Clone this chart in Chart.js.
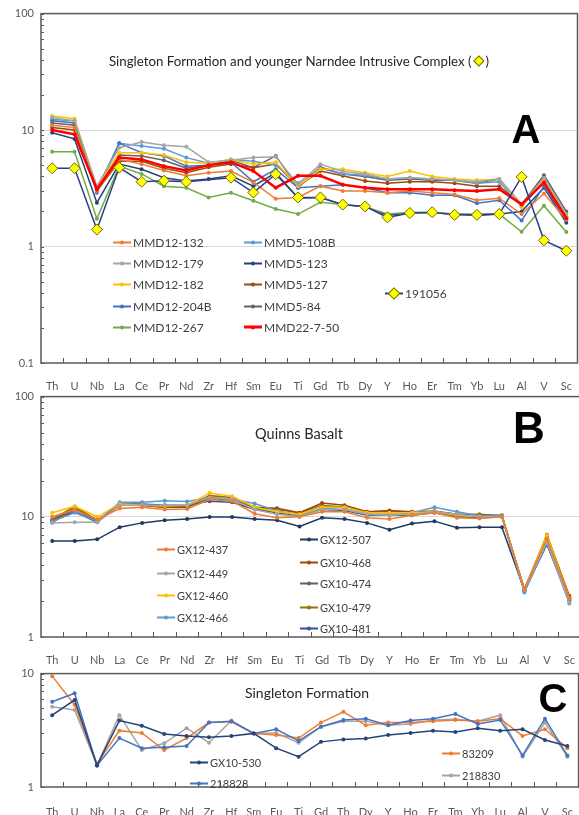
<!DOCTYPE html>
<html>
<head>
<meta charset="utf-8">
<script src="https://cdn.jsdelivr.net/npm/chart.js@4.4.1/dist/chart.umd.min.js"></script>
<style>
body { margin: 0; width: 579px; height: 815px; overflow: hidden; background: #fff; position: relative; font-family: Lato, "Liberation Sans", sans-serif; }
canvas { position: absolute; left: 0; }
.ttl { position: absolute; color: #262626; white-space: nowrap; transform: translate(-50%, -50%); }
.big { position: absolute; font-weight: bold; font-family: "Liberation Sans", Arial, sans-serif; color: #000; transform: translate(-50%, -50%); }
.lg { position: absolute; white-space: nowrap; color: #404040; display: flex; align-items: center; transform: translateY(-50%); }
.lg .ln { position: relative; display: inline-block; width: 18px; height: 2px; margin-right: 2px; }
.lg .mk { position: absolute; left: 50%; top: 50%; width: 4px; height: 4px; border-radius: 50%; transform: translate(-50%, -50%); }
.lg .mk.dia { border-radius: 0; width: 7px; height: 7px; background: #ffff00; border: 1px solid #6b6b00; transform: translate(-50%, -50%) rotate(45deg); }
.ttl .tdia { display: inline-block; width: 6px; height: 6px; background: #ffff00; border: 1px solid #6b6b00; transform: rotate(45deg); margin: 0 3px; position: relative; top: -1px; }
</style>
</head>
<body>
<canvas id="graficoA" width="584" height="392" style="top:0px"></canvas>
<canvas id="graficoB" width="584" height="283" style="top:383px"></canvas>
<canvas id="graficoC" width="584" height="157" style="top:660px"></canvas>

<div class="ttl" style="left:299px;top:61px;font-size:13.3px">Singleton Formation and younger Narndee Intrusive Complex (<span class="tdia"></span>)</div>
<div class="ttl" style="left:299px;top:433px;font-size:14.5px">Quinns Basalt</div>
<div class="ttl" style="left:307px;top:692px;font-size:14px">Singleton Formation</div>
<div class="big" style="left:526px;top:129px;font-size:40px">A</div>
<div class="big" style="left:529px;top:428px;font-size:44px">B</div>
<div class="big" style="left:553px;top:698px;font-size:40px">C</div>

<script>
var elementos = ["Th", "U", "Nb", "La", "Ce", "Pr", "Nd", "Zr", "Hf", "Sm", "Eu", "Ti", "Gd", "Tb", "Dy", "Y", "Ho", "Er", "Tm", "Yb", "Lu", "Al", "V", "Sc"];

var ticksA = [0.1, 1, 10, 100];
var ticksB = [1, 10, 100];
var ticksC = [1, 10];

// painel A - Singleton Formation e Narndee
var mmd12_132 = [11, 10.5, 3.0, 5.6, 5.1, 4.5, 4.05, 4.3, 4.45, 3.55, 2.57, 2.64, 3.3, 3.0, 3.0, 2.9, 3.0, 2.9, 2.8, 2.5, 2.6, 1.9, 2.85, 1.7];
var mmd12_179 = [12.8, 12, 3.3, 7.06, 7.9, 7.4, 7.2, 5.3, 5.5, 5.8, 5.9, 3.4, 5.1, 4.4, 4.2, 3.8, 3.9, 3.8, 3.7, 3.6, 3.8, 2.3, 3.9, 1.9];
var mmd12_182 = [13.2, 12.5, 3.2, 6.4, 6.4, 6.1, 5.3, 5.2, 5.6, 5.1, 5.3, 3.3, 4.6, 4.6, 4.3, 4.0, 4.45, 4.0, 3.8, 3.7, 3.8, 2.2, 3.8, 1.8];
var mmd12_204b = [12, 11.5, 2.9, 7.7, 6.4, 6.0, 4.9, 5.0, 5.3, 3.6, 4.6, 3.2, 3.3, 3.4, 3.2, 2.9, 2.9, 2.75, 2.75, 2.35, 2.5, 1.67, 3.3, 1.7];
var mmd12_267 = [6.5, 6.5, 1.73, 4.9, 4.2, 3.3, 3.2, 2.64, 2.9, 2.47, 2.1, 1.9, 2.4, 2.3, 2.2, 1.9, 1.97, 1.95, 1.9, 1.9, 1.9, 1.34, 2.24, 1.33];
var mmd5_108b = [12.3, 12, 3.1, 7.7, 7.3, 6.9, 5.8, 5.2, 5.6, 5.4, 5.0, 3.5, 4.7, 4.2, 4.1, 3.8, 3.9, 3.8, 3.7, 3.5, 3.6, 2.2, 3.6, 1.8];
var mmd5_123 = [9.5, 8.4, 2.38, 5.1, 4.6, 3.9, 3.66, 3.8, 4.05, 3.3, 4.3, 2.6, 2.64, 2.29, 2.2, 1.85, 1.95, 1.95, 1.9, 1.85, 1.9, 2.0, 3.2, 1.6];
var mmd5_127 = [10.5, 10, 3.0, 5.4, 5.4, 4.7, 4.3, 4.8, 5.1, 4.75, 5.1, 3.3, 4.45, 4.05, 3.66, 3.5, 3.6, 3.6, 3.5, 3.3, 3.3, 2.3, 3.9, 1.8];
var mmd5_84 = [11.5, 11, 3.2, 6.1, 6.0, 5.5, 4.7, 5.0, 5.5, 4.75, 6.0, 3.2, 4.8, 4.2, 4.0, 3.7, 3.8, 3.7, 3.7, 3.5, 3.8, 2.3, 4.1, 2.0];
var mmd22_7_50 = [10, 9.2, 3.1, 5.8, 5.6, 4.9, 4.5, 5.0, 5.3, 4.45, 3.2, 4.05, 4.05, 3.4, 3.2, 3.1, 3.1, 3.1, 3.05, 3.0, 3.1, 2.3, 3.55, 1.75];
var s191056 = [4.7, 4.7, 1.40, 4.76, 3.6, 3.67, 3.6, null, 3.9, 2.91, 4.18, 2.64, 2.64, 2.29, 2.21, 1.78, 1.94, 1.97, 1.87, 1.87, 1.9, 3.96, 1.13, 0.92];

// painel B - Quinns Basalt
var gx12_437 = [10.0, 11.5, 9.5, 11.7, 12.0, 11.5, 11.6, 14.0, 13.5, 10.6, 9.8, 10.0, 11.0, 11.0, 9.8, 9.6, 10.3, 10.8, 9.8, 9.7, 10.0, 2.5, 6.6, 2.1];
var gx12_449 = [8.9, 9.0, 9.0, 12.5, 12.5, 12.5, 12.5, 14.5, 14.0, 11.5, 10.5, 10.0, 11.5, 11.5, 10.5, 10.3, 10.5, 11.0, 10.5, 10.0, 10.0, 2.45, 6.2, 1.95];
var gx12_460 = [10.8, 12.2, 10.0, 12.8, 12.5, 12.3, 12.5, 15.8, 14.8, 12.0, 11.0, 10.5, 12.0, 12.0, 10.8, 10.8, 10.8, 11.0, 10.3, 10.0, 10.0, 2.5, 7.0, 2.1];
var gx12_466 = [9.2, 10.8, 9.2, 13.2, 13.2, 13.6, 13.4, 14.5, 14.0, 12.9, 11.2, 10.2, 11.8, 11.5, 10.5, 10.3, 10.8, 12.0, 11.0, 10.2, 10.2, 2.35, 6.0, 1.9];
var gx12_507 = [6.3, 6.3, 6.5, 8.2, 8.9, 9.35, 9.6, 9.95, 9.95, 9.6, 9.35, 8.3, 9.8, 9.6, 8.9, 7.8, 8.8, 9.2, 8.1, 8.2, 8.2, 2.45, 5.9, 2.05];
var gx10_468 = [9.3, 11.8, 9.3, 12.5, 12.5, 12.0, 12.0, 14.5, 14.0, 12.0, 11.8, 10.8, 13.0, 12.5, 11.0, 11.3, 11.0, 11.0, 10.2, 10.3, 10.2, 2.5, 6.8, 2.15];
var gx10_474 = [9.0, 11.5, 9.2, 12.5, 12.5, 12.3, 12.3, 14.0, 13.8, 11.8, 11.0, 10.5, 12.0, 12.0, 10.8, 10.8, 10.8, 11.0, 10.5, 10.2, 10.3, 2.45, 6.3, 2.1];
var gx10_479 = [9.5, 12.2, 9.4, 12.5, 12.5, 12.0, 12.2, 15.0, 14.5, 12.0, 11.5, 10.8, 12.5, 12.0, 11.0, 11.0, 11.0, 11.2, 10.5, 10.5, 10.2, 2.5, 7.1, 2.2];
var gx10_481 = [9.2, 11.0, 9.0, 12.8, 12.8, 12.5, 12.5, 13.5, 13.2, 11.5, 10.8, 10.2, 11.5, 11.3, 10.3, 10.3, 10.3, 10.8, 10.0, 9.8, 10.0, 2.4, 6.0, 2.0];

// painel C - Singleton Formation
var gx10_530 = [4.3, 5.85, 1.55, 3.85, 3.47, 2.94, 2.82, 2.75, 2.82, 2.97, 2.2, 1.85, 2.5, 2.63, 2.68, 2.88, 3.0, 3.14, 3.05, 3.3, 3.14, 3.23, 2.6, 2.3];
var s218828 = [5.65, 6.7, 1.55, 2.7, 2.2, 2.24, 2.3, 3.7, 3.8, 2.97, 3.23, 2.55, 3.4, 3.9, 4.0, 3.5, 3.85, 4.0, 4.4, 3.6, 3.9, 1.9, 4.0, 1.9];
var s83209 = [9.5, 5.3, 1.6, 3.14, 3.0, 2.12, 2.7, 3.7, 3.77, 2.97, 2.88, 2.7, 3.7, 4.6, 3.5, 3.7, 3.7, 3.8, 3.9, 3.8, 4.0, 2.82, 3.23, 2.2];
var s218830 = [5.1, 4.78, 1.55, 4.3, 2.12, 2.43, 3.3, 2.46, 3.85, 2.97, 3.0, 2.45, 3.4, 3.8, 3.8, 3.5, 3.6, 3.9, 3.95, 3.8, 4.3, 1.85, 3.7, 1.85];

function serie(rotulo, valores, cor, largura) {
    return {
        label: rotulo,
        data: valores,
        borderColor: cor,
        backgroundColor: cor,
        borderWidth: largura || 1.5,
        pointRadius: 2,
        pointHoverRadius: 2,
        pointBorderWidth: 0,
        spanGaps: true
    };
}

var seriesA = [
    serie("MMD12-132", mmd12_132, "#ED7D31"),
    serie("MMD12-179", mmd12_179, "#A5A5A5"),
    serie("MMD12-182", mmd12_182, "#FFC000"),
    serie("MMD12-204B", mmd12_204b, "#4472C4"),
    serie("MMD12-267", mmd12_267, "#70AD47"),
    serie("MMD5-108B", mmd5_108b, "#5B9BD5"),
    serie("MMD5-123", mmd5_123, "#264478"),
    serie("MMD5-127", mmd5_127, "#9E480E"),
    serie("MMD5-84", mmd5_84, "#636363"),
    serie("MMD22-7-50", mmd22_7_50, "#FF0000", 2.5),
    serie("191056", s191056, "#2E3C8C")
];
seriesA[9].order = -1;
seriesA[10].order = -2;
seriesA[10].pointStyle = "rectRot";
seriesA[10].pointRadius = 5.5;
seriesA[10].pointHoverRadius = 5.5;
seriesA[10].pointBackgroundColor = "#FFFF00";
seriesA[10].pointBorderColor = "#6B6B00";
seriesA[10].pointBorderWidth = 1;

var seriesB = [
    serie("GX12-437", gx12_437, "#ED7D31"),
    serie("GX12-449", gx12_449, "#A5A5A5"),
    serie("GX12-460", gx12_460, "#FFC000"),
    serie("GX12-466", gx12_466, "#5B9BD5"),
    serie("GX12-507", gx12_507, "#203864"),
    serie("GX10-468", gx10_468, "#9E480E"),
    serie("GX10-474", gx10_474, "#636363"),
    serie("GX10-479", gx10_479, "#997300"),
    serie("GX10-481", gx10_481, "#2F5597")
];

var seriesC = [
    serie("GX10-530", gx10_530, "#264478"),
    serie("218828", s218828, "#4472C4"),
    serie("83209", s83209, "#ED7D31"),
    serie("218830", s218830, "#A5A5A5")
];

// moldura, marcas menores do eixo y e marcas do eixo x
var moldura = {
    id: "moldura",
    afterDraw: function (chart) {
        var ctx = chart.ctx;
        var area = chart.chartArea;
        var sx = chart.scales.x;
        var sy = chart.scales.y;
        ctx.save();
        ctx.strokeStyle = "#595959";
        ctx.lineWidth = 1;
        sy.ticks.forEach(function (t) {
            var py = Math.round(sy.getPixelForValue(t.value)) + 0.5;
            ctx.beginPath();
            ctx.moveTo(area.left, py);
            ctx.lineTo(area.left + 3, py);
            ctx.stroke();
        });
        var passo = sx.getPixelForValue(1) - sx.getPixelForValue(0);
        for (var i = 1; i < elementos.length; i++) {
            var px = Math.round(sx.getPixelForValue(i) - passo / 2) + 0.5;
            ctx.beginPath();
            ctx.moveTo(px, area.bottom);
            ctx.lineTo(px, area.bottom - 5);
            ctx.stroke();
        }
        ctx.lineWidth = 1.5;
        ctx.strokeRect(area.left, area.top, area.right - area.left, area.bottom - area.top);
        ctx.restore();
    }
};

function criarGrafico(id, series, ticks, altX) {
    var menores = [];
    for (var d = 0; d < ticks.length - 1; d++) {
        for (var k = 1; k < 10; k++) {
            menores.push(k == 1 ? ticks[d] : ticks[d] * k);
        }
    }
    menores.push(ticks[ticks.length - 1]);

    return new Chart(document.getElementById(id).getContext("2d"), {
        type: "line",
        data: { labels: elementos, datasets: series },
        options: {
            responsive: false,
            animation: false,
            devicePixelRatio: 1,
            layout: { padding: { top: 13, right: 1, left: 0, bottom: 0 } },
            plugins: { legend: { display: false }, tooltip: { enabled: false } },
            elements: { line: { tension: 0 } },
            scales: {
                x: {
                    offset: true,
                    afterFit: function (s) { s.height = altX; },
                    grid: { display: false },
                    border: { display: false },
                    ticks: { padding: altX > 29 ? 11 : 9, color: "#595959", font: { size: 11, family: "Lato" }, maxRotation: 0, autoSkip: false }
                },
                y: {
                    type: "logarithmic",
                    min: ticks[0],
                    max: ticks[ticks.length - 1],
                    afterBuildTicks: function (s) {
                        s.ticks = menores.map(function (v) { return { value: v }; });
                    },
                    afterFit: function (s) { s.width = 41; },
                    border: { display: false },
                    grid: {
                        drawTicks: false,
                        color: function (c) {
                            if (c.tick && ticks.indexOf(c.tick.value) > 0 && ticks.indexOf(c.tick.value) < ticks.length - 1) {
                                return "#D9D9D9";
                            }
                            return "rgba(0,0,0,0)";
                        }
                    },
                    ticks: {
                        padding: 7,
                        color: "#595959",
                        font: { size: 11, family: "Lato" },
                        autoSkip: false,
                        callback: function (v) { return ticks.indexOf(v) >= 0 ? String(v) : ""; }
                    }
                }
            }
        },
        plugins: [moldura]
    });
}

var graficoA = criarGrafico("graficoA", seriesA, ticksA, 29);
var graficoB = criarGrafico("graficoB", seriesB, ticksB, 29);
var graficoC = criarGrafico("graficoC", seriesC, ticksC, 30);

// legendas no estilo do excel
function legenda(serieLeg, x, y, tamanho) {
    var div = document.createElement("div");
    div.className = "lg";
    div.style.left = x + "px";
    div.style.top = y + "px";
    div.style.fontSize = tamanho + "px";
    var ln = document.createElement("span");
    ln.className = "ln";
    ln.style.background = serieLeg.borderColor;
    if (serieLeg.borderWidth > 2) ln.style.height = "3px";
    var mk = document.createElement("span");
    mk.className = serieLeg.pointStyle == "rectRot" ? "mk dia" : "mk";
    if (serieLeg.pointStyle != "rectRot") mk.style.background = serieLeg.borderColor;
    ln.appendChild(mk);
    div.appendChild(ln);
    div.appendChild(document.createTextNode(serieLeg.label));
    document.body.appendChild(div);
}

var linhasA = [242, 263, 284, 306, 327];
for (var i = 0; i < 5; i++) {
    legenda(seriesA[i], 113, linhasA[i], 12);
    legenda(seriesA[i + 5], 244, linhasA[i], 12);
}
legenda(seriesA[10], 385, 293, 12);

var linhasB1 = [549, 573, 595, 617];
var linhasB2 = [539, 562, 583, 607, 628];
for (var j = 0; j < 4; j++) legenda(seriesB[j], 157, linhasB1[j], 11);
for (var j = 0; j < 5; j++) legenda(seriesB[j + 4], 300, linhasB2[j], 11);

legenda(seriesC[0], 190, 762, 11);
legenda(seriesC[1], 190, 783, 11);
legenda(seriesC[2], 442, 753, 11);
legenda(seriesC[3], 442, 775, 11);
</script>
</body>
</html>
